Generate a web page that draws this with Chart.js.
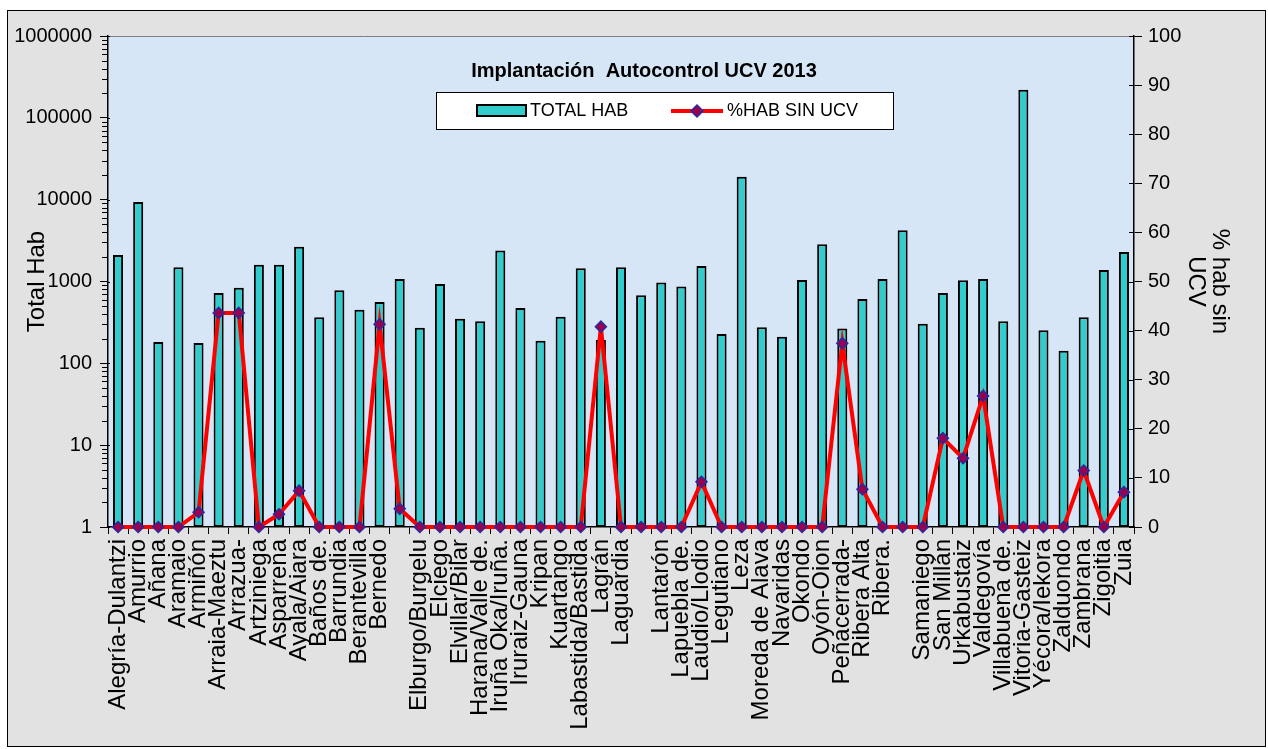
<!DOCTYPE html>
<html>
<head>
<meta charset="utf-8">
<title>Implantación Autocontrol UCV 2013</title>
<script src="https://cdn.jsdelivr.net/npm/chart.js@4.4.1/dist/chart.umd.min.js"></script>
<style>
  html, body { margin: 0; padding: 0; background: #fff; }
  canvas { display: block; }
</style>
</head>
<body>
<canvas id="ucvChart" width="1268" height="749"></canvas>
<script>
'use strict';

var municipios = ['Alegría-Dulantzi', 'Amurrio', 'Añana', 'Aramaio', 'Armiñón', 'Arraia-Maeztu', 'Arrazua-',
    'Artziniega', 'Asparrena', 'Ayala/Aiara', 'Baños de.', 'Barrundia', 'Berantevilla', 'Bernedo', '',
    'Elburgo/Burgelu', 'Elciego', 'Elvillar/Bilar', 'Harana/Valle de.', 'Iruña Oka/Iruña.', 'Iruraiz-Gauna',
    'Kripan', 'Kuartango', 'Labastida/Bastida', 'Lagrán', 'Laguardia', '', 'Lantarón', 'Lapuebla de.',
    'Laudio/Llodio', 'Legutiano', 'Leza', 'Moreda de Alava', 'Navaridas', 'Okondo', 'Oyón-Oion',
    'Peñacerrada-', 'Ribera Alta', 'Ribera.', '', 'Samaniego', 'San Millán', 'Urkabustaiz', 'Valdegovía',
    'Villabuena de.', 'Vitoria-Gasteiz', 'Yécora/Iekora', 'Zalduondo', 'Zambrana', 'Zigoitia', 'Zuia'];

var totalHab = [2110, 9370, 182, 1490, 177, 724, 840, 1600, 1600, 2660, 365, 780, 452, 562, 1070,
    273, 933, 351, 326, 2390, 476, 189, 372, 1455, 193, 1496, 680, 970, 866, 1552, 229, 19100, 276,
    212, 1046, 2858, 266, 613, 1073, 4225, 305, 724, 1035, 1073, 326, 220800, 253, 142, 365, 1381, 2292];

var pctSinUcv = [0, 0, 0, 0, 3.0, 43.6, 43.6, 0, 2.6, 7.4, 0, 0, 0, 41.3, 3.7,
    0, 0, 0, 0, 0, 0, 0, 0, 0, 40.8, 0, 0, 0, 0, 9.2, 0, 0, 0, 0, 0, 0,
    37.4, 7.7, 0, 0, 0, 18.1, 14.0, 26.7, 0, 0, 0, 0, 11.5, 0, 7.1];

var leftTicks = [1, 10, 100, 1000, 10000, 100000, 1000000];
var chartTitle = 'Implantación  Autocontrol UCV 2013';

var FONT = 'Liberation Sans, Arial, sans-serif';
var TURQ = '#33cccc';

// background, plot area fill, title and legend box (drawn inside the plot area like excel)
var decoPlugin = {
    id: 'deco',
    beforeDraw: function(chart) {
        var ctx = chart.ctx, ca = chart.chartArea;
        ctx.save();
        ctx.fillStyle = '#ffffff';
        ctx.fillRect(0, 0, chart.width, chart.height);
        ctx.fillStyle = '#e2e2e2';
        ctx.fillRect(7, 10, 1258, 737);
        ctx.strokeStyle = '#000';
        ctx.lineWidth = 1;
        ctx.strokeRect(7.5, 10.5, 1258, 736);
        ctx.fillStyle = '#d6e6f6';
        ctx.fillRect(ca.left, ca.top, ca.right - ca.left, ca.bottom - ca.top);
        ctx.strokeStyle = '#808080';
        ctx.beginPath();
        ctx.moveTo(ca.left, ca.top + 0.5);
        ctx.lineTo(ca.right, ca.top + 0.5);
        ctx.stroke();
        ctx.restore();
    },
    afterDraw: function(chart) {
        var ctx = chart.ctx;
        ctx.save();
        ctx.fillStyle = '#000';
        ctx.font = 'bold 20px ' + FONT;
        ctx.textAlign = 'center';
        ctx.textBaseline = 'alphabetic';
        ctx.fillText(chartTitle, 644, 77);

        // legend
        ctx.fillStyle = '#fff';
        ctx.fillRect(436, 92, 457, 37);
        ctx.strokeStyle = '#000';
        ctx.lineWidth = 1;
        ctx.strokeRect(436.5, 92.5, 457, 37);

        var ds = chart.data.datasets;
        ctx.fillStyle = TURQ;
        ctx.fillRect(477, 105, 49, 11);
        ctx.lineWidth = 2;
        ctx.strokeRect(477, 105, 49, 11);

        ctx.strokeStyle = '#ff0000';
        ctx.lineWidth = 4;
        ctx.beginPath();
        ctx.moveTo(671, 111);
        ctx.lineTo(723, 111);
        ctx.stroke();
        ctx.fillStyle = '#99004d';
        ctx.strokeStyle = '#2a2aa0';
        ctx.lineWidth = 1.5;
        ctx.beginPath();
        ctx.moveTo(697, 105);
        ctx.lineTo(703, 111);
        ctx.lineTo(697, 117);
        ctx.lineTo(691, 111);
        ctx.closePath();
        ctx.fill();
        ctx.stroke();

        ctx.fillStyle = '#000';
        ctx.font = '18px ' + FONT;
        ctx.textAlign = 'left';
        ctx.textBaseline = 'middle';
        ctx.fillText(ds[1].label, 530, 111);
        ctx.fillText(ds[0].label, 727, 111);
        ctx.restore();
    }
};

// minor ticks on the log axis and the inner half of the right axis ticks
var ticksPlugin = {
    id: 'extraTicks',
    afterDraw: function(chart) {
        var ctx = chart.ctx;
        var y = chart.scales.y, y1 = chart.scales.y1;
        ctx.save();
        ctx.strokeStyle = '#000';
        ctx.lineWidth = 1;
        ctx.beginPath();
        for (var k = 0; k < 6; k++) {
            for (var m = 2; m <= 9; m++) {
                var py = Math.round(y.getPixelForValue(m * Math.pow(10, k))) + 0.5;
                ctx.moveTo(y.right - 6, py);
                ctx.lineTo(y.right, py);
            }
        }
        leftTicks.forEach(function(v) {
            var py = Math.round(y.getPixelForValue(v)) + 0.5;
            ctx.moveTo(y.right, py);
            ctx.lineTo(y.right + 2, py);
        });
        y1.ticks.forEach(function(t) {
            var py = Math.round(y1.getPixelForValue(t.value)) + 0.5;
            ctx.moveTo(y1.left - 5, py);
            ctx.lineTo(y1.left, py);
        });
        ctx.stroke();
        ctx.restore();
    }
};

var ctx = document.getElementById('ucvChart');
var myChart = new Chart(ctx, {
    type: 'bar',
    data: {
        labels: municipios,
        datasets: [{
            type: 'line',
            label: '%HAB SIN UCV',
            data: pctSinUcv,
            yAxisID: 'y1',
            borderColor: '#ff0000',
            borderWidth: 4,
            tension: 0,
            pointStyle: 'rectRot',
            pointRadius: 5.5,
            pointBackgroundColor: '#99004d',
            pointBorderColor: '#2a2aa0',
            pointBorderWidth: 1.5,
            clip: false,
            order: 0
        }, {
            type: 'bar',
            label: 'TOTAL HAB',
            data: totalHab,
            yAxisID: 'y',
            backgroundColor: TURQ,
            borderColor: '#000',
            borderWidth: 2,
            borderSkipped: false,
            categoryPercentage: 1,
            barPercentage: 0.5,
            order: 1
        }]
    },
    options: {
        responsive: false,
        animation: false,
        layout: { padding: { left: 8, top: 36, right: 0, bottom: 0 } },
        plugins: {
            legend: { display: false },
            title: { display: false },
            tooltip: { enabled: false }
        },
        scales: {
            x: {
                grid: { drawOnChartArea: false, tickLength: 7, color: '#000', offset: true },
                border: { color: '#000', width: 1.5 },
                ticks: {
                    autoSkip: false,
                    maxRotation: 90,
                    minRotation: 90,
                    padding: 5,
                    color: '#000',
                    font: { family: FONT, size: 24 }
                },
                afterFit: function(scale) { scale.height = 222; }
            },
            y: {
                type: 'logarithmic',
                position: 'left',
                min: 1,
                max: 1000000,
                afterBuildTicks: function(scale) {
                    scale.ticks = leftTicks.map(function(v) { return { value: v }; });
                },
                grid: { drawOnChartArea: false, tickLength: 8, color: '#000' },
                border: { color: '#000', width: 1.5 },
                ticks: {
                    padding: 8,
                    color: '#000',
                    font: { family: FONT, size: 20 },
                    callback: function(v) { return String(v); }
                },
                title: {
                    display: true,
                    text: 'Total Hab',
                    color: '#000',
                    font: { family: FONT, size: 24 },
                    padding: { top: 15, bottom: 0 }
                },
                afterFit: function(scale) { scale.width = 100; }
            },
            y1: {
                position: 'right',
                min: 0,
                max: 100,
                grid: { drawOnChartArea: false, tickLength: 8, color: '#000' },
                border: { color: '#000', width: 1.5 },
                ticks: {
                    stepSize: 10,
                    padding: 6,
                    color: '#000',
                    font: { family: FONT, size: 20 }
                },
                title: {
                    display: true,
                    text: ['% hab sin', 'UCV'],
                    color: '#000',
                    font: { family: FONT, size: 24, lineHeight: 1 },
                    padding: { top: 36, bottom: 0 }
                },
                afterFit: function(scale) { scale.width = 134; }
            }
        }
    },
    plugins: [decoPlugin, ticksPlugin]
});
</script>
</body>
</html>
